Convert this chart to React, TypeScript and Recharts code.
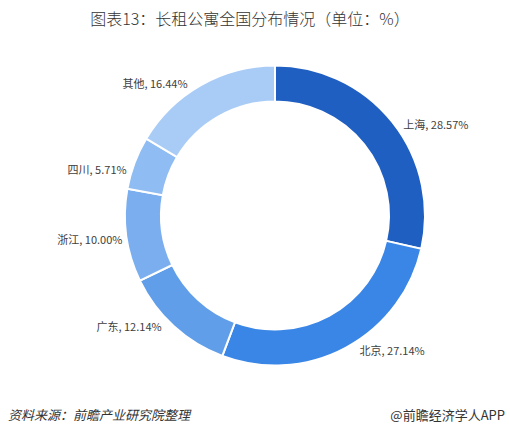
import React from "react";
import { PieChart, Pie, Cell } from "recharts";

const regions = ["上海", "北京", "广东", "浙江", "四川", "其他"];
const shares = [28.57, 27.14, 12.14, 10.0, 5.71, 16.44];
const colors = ["#1F5FC1", "#3A86E6", "#609EE9", "#7BAEEF", "#8FBCF2", "#A9CCF7"];

const data = regions.map((name, i) => ({ name, value: shares[i] }));

const FONT = '"Microsoft YaHei", "Noto Sans CJK SC", "Noto Sans", sans-serif';
const RAD = Math.PI / 180;

const renderLabel = (props: any) => {
  const { cx, cy, midAngle, outerRadius, name, value } = props;
  // normalise angle to (-180, 180]
  let a = ((midAngle % 360) + 360) % 360;
  if (a > 180) a -= 360;
  // distance from horizontal axis, push label slightly toward horizontal
  const toward = Math.abs(a) <= 90 ? 0 : a > 0 ? 180 : -180;
  const dist = Math.abs(a - toward);
  const shift = 5 * Math.max(0, Math.min(1, (dist - 8) / 8));
  a = a + (toward - a > 0 ? shift : -shift);
  const r = outerRadius + 4;
  const c = Math.cos(a * RAD);
  const s = -Math.sin(a * RAD);
  const x = cx + r * c;
  const y = cy + r * s + 6 * Math.max(-1, Math.min(1, s * 3));
  return (
    <text
      x={x}
      y={y}
      textAnchor={c >= 0 ? "start" : "end"}
      dominantBaseline="central"
      fill="#404040"
      fontSize={11}
      fontFamily={FONT}
    >
      {`${name}, ${Number(value).toFixed(2)}%`}
    </text>
  );
};

export default function App() {
  return (
    <div
      style={{
        position: "absolute",
        left: 0,
        top: 0,
        width: 510,
        height: 436,
        background: "#fff",
        fontFamily: FONT,
        overflow: "hidden",
      }}
    >
      <div
        style={{
          position: "absolute",
          left: 0,
          top: 6,
          width: 500,
          textAlign: "center",
          fontSize: 16,
          fontWeight: 300,
          color: "#333",
          lineHeight: "24px",
        }}
      >
        图表13：长租公寓全国分布情况（单位：%）
      </div>
      <div style={{ position: "absolute", left: 0, top: 0 }}>
        <PieChart width={510} height={436} margin={{ top: 0, right: 0, bottom: 0, left: 0 }}>
          <Pie
            data={data}
            dataKey="value"
            nameKey="name"
            cx={275}
            cy={215.5}
            innerRadius={114}
            outerRadius={150}
            startAngle={90}
            endAngle={-270}
            stroke="#ffffff"
            strokeWidth={2}
            label={renderLabel}
            labelLine={false}
            isAnimationActive={false}
          >
            {data.map((d, i) => (
              <Cell key={d.name} fill={colors[i]} />
            ))}
          </Pie>
        </PieChart>
      </div>
      <div
        style={{
          position: "absolute",
          left: 8,
          top: 406,
          fontSize: 13,
          fontStyle: "italic",
          color: "#333",
          lineHeight: "18px",
        }}
      >
        资料来源：前瞻产业研究院整理
      </div>
      <div
        style={{
          position: "absolute",
          right: 5,
          top: 406,
          fontSize: 13,
          color: "#333",
          lineHeight: "18px",
        }}
      >
        @前瞻经济学人APP
      </div>
    </div>
  );
}
